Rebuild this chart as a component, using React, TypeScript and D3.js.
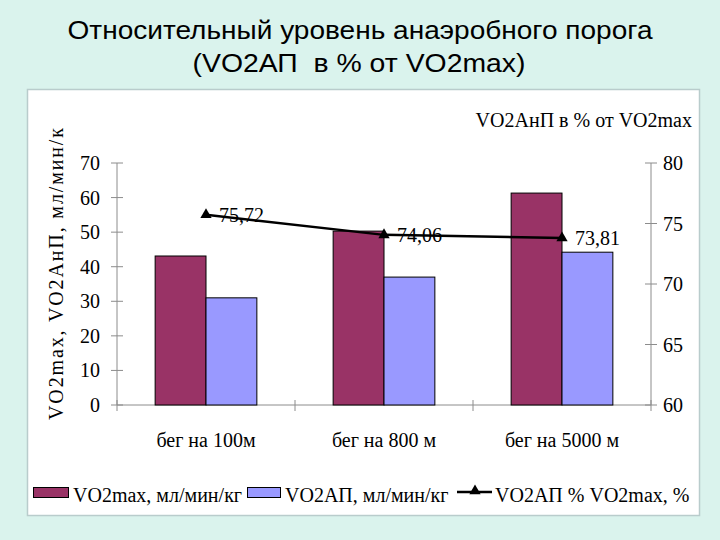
import React from "react";
import * as d3 from "d3";

const categories = ["бег на 100м", "бег на 800 м", "бег на 5000 м"];
const vo2max = [43.1, 50.3, 61.3];
const vo2ap = [31.0, 37.0, 44.2];
const apPercent = [75.72, 74.06, 73.81];
const apLabels = ["75,72", "74,06", "73,81"];
const leftTicks = [0, 10, 20, 30, 40, 50, 60, 70];
const rightTicks = [60, 65, 70, 75, 80];
const seriesNames = ["VO2max, мл/мин/кг", "VO2АП, мл/мин/кг", "VO2АП % VO2max, %"];
const barColors = ["#993366", "#9999ff"];

const W = 720;
const H = 540;
const plotLeft = 117;
const plotRight = 651;
const plotTop = 163;
const plotBottom = 405;
const serif = "'Liberation Serif', 'Times New Roman', serif";
const axisColor = "#8c8c8c";

export default function App() {
  const x = d3
    .scaleBand<string>()
    .domain(categories)
    .range([plotLeft, plotRight])
    .paddingInner(0.75 / 1.75)
    .paddingOuter(0.375 / 1.75);
  const xInner = d3.scaleBand<number>().domain([0, 1]).range([0, x.bandwidth()]);
  const yL = d3.scaleLinear().domain([0, 70]).range([plotBottom, plotTop]);
  const yR = d3.scaleLinear().domain([60, 80]).range([plotBottom, plotTop]);
  const step = x.step();

  const linePts: [number, number][] = categories.map((c, i) => [
    (x(c) as number) + x.bandwidth() / 2,
    yR(apPercent[i]),
  ]);
  const line = d3.line();
  const tri = d3.symbol().type(d3.symbolTriangle).size(55);

  const boundaries = d3.range(categories.length + 1).map((i) => plotLeft + i * step);

  return (
    <svg
      width={W}
      height={H}
      style={{ position: "absolute", left: 0, top: 0, display: "block" }}
    >
      <rect x={0} y={0} width={W} height={H} fill="#daf3ed" />
      <text
        x={360}
        y={39}
        textAnchor="middle"
        fontFamily="'Liberation Sans Narrow', 'Liberation Sans', Arial, sans-serif"
        fontSize={25}
        textLength={585}
        lengthAdjust="spacingAndGlyphs"
        fill="#000"
      >
        Относительный уровень анаэробного порога
      </text>
      <text
        x={359}
        y={72}
        textAnchor="middle"
        fontFamily="'Liberation Sans Narrow', 'Liberation Sans', Arial, sans-serif"
        fontSize={25}
        textLength={333}
        lengthAdjust="spacingAndGlyphs"
        fill="#000"
        style={{ whiteSpace: "pre" }}
      >
        {"(VO2АП  в % от VO2max)"}
      </text>

      <rect x={27.5} y={89.5} width={672} height={426} fill="#ffffff" stroke="#b9cccc" strokeWidth={1.5} />

      {/* left axis */}
      <line x1={plotLeft} x2={plotLeft} y1={plotTop} y2={plotBottom} stroke={axisColor} />
      {leftTicks.map((t) => (
        <g key={"l" + t}>
          <line x1={plotLeft - 6} x2={plotLeft + 6} y1={yL(t)} y2={yL(t)} stroke={axisColor} />
          <text
            x={100}
            y={yL(t)}
            dy="0.35em"
            textAnchor="end"
            fontFamily={serif}
            fontSize={20}
            fill="#000"
          >
            {t}
          </text>
        </g>
      ))}
      {/* right axis */}
      <line x1={plotRight} x2={plotRight} y1={plotTop} y2={plotBottom} stroke={axisColor} />
      {rightTicks.map((t) => (
        <g key={"r" + t}>
          <line x1={plotRight - 6} x2={plotRight + 6} y1={yR(t)} y2={yR(t)} stroke={axisColor} />
          <text
            x={663}
            y={yR(t)}
            dy="0.35em"
            textAnchor="start"
            fontFamily={serif}
            fontSize={20}
            fill="#000"
          >
            {t}
          </text>
        </g>
      ))}
      {/* x axis */}
      <line x1={plotLeft} x2={plotRight} y1={plotBottom} y2={plotBottom} stroke={axisColor} />
      {boundaries.map((bx, i) => (
        <line key={"b" + i} x1={bx} x2={bx} y1={plotBottom - 5} y2={plotBottom + 6} stroke={axisColor} />
      ))}

      {/* bars */}
      {categories.map((c, i) => (
        <g key={"g" + c}>
          {[vo2max[i], vo2ap[i]].map((v, s) => (
            <rect
              key={s}
              x={(x(c) as number) + (xInner(s) as number)}
              y={yL(v)}
              width={xInner.bandwidth()}
              height={plotBottom - yL(v)}
              fill={barColors[s]}
              stroke="#000"
              strokeWidth={1}
            />
          ))}
        </g>
      ))}

      {/* data labels */}
      {linePts.map((p, i) => (
        <text
          key={"dl" + i}
          x={p[0] + 13}
          y={p[1]}
          dy="0.35em"
          fontFamily={serif}
          fontSize={20}
          fill="#000"
        >
          {apLabels[i]}
        </text>
      ))}
      {/* line */}
      <path d={line(linePts) || ""} fill="none" stroke="#000" strokeWidth={2.5} />
      {linePts.map((p, i) => (
        <path key={"m" + i} d={tri() || ""} transform={`translate(${p[0]},${p[1]})`} fill="#000" />
      ))}

      {/* x labels */}
      {categories.map((c) => (
        <text
          key={"xl" + c}
          x={(x(c) as number) + x.bandwidth() / 2}
          y={447}
          textAnchor="middle"
          fontFamily={serif}
          fontSize={20}
          fill="#000"
        >
          {c}
        </text>
      ))}

      {/* axis titles */}
      <text
        transform="translate(63,274) rotate(-90)"
        textAnchor="middle"
        fontFamily={serif}
        fontSize={20}
        textLength={292}
        lengthAdjust="spacing"
        fill="#000"
      >
        VO2max, VO2АнП, мл/мин/к
      </text>
      <text x={692} y={127} textAnchor="end" fontFamily={serif} fontSize={20} fill="#000">
        VO2АнП в % от VO2max
      </text>

      {/* legend */}
      <rect x={33.5} y={487.5} width={35} height={10} fill={barColors[0]} stroke="#000" />
      <text x={73} y={502} fontFamily={serif} fontSize={20} fill="#000">
        {seriesNames[0]}
      </text>
      <rect x={247.5} y={487.5} width={33} height={10} fill={barColors[1]} stroke="#000" />
      <text x={285} y={502} fontFamily={serif} fontSize={20} fill="#000">
        {seriesNames[1]}
      </text>
      <line x1={457} x2={492} y1={492} y2={492} stroke="#000" strokeWidth={2.5} />
      <path d={tri() || ""} transform="translate(475,491)" fill="#000" />
      <text x={495} y={502} fontFamily={serif} fontSize={20} fill="#000">
        {seriesNames[2]}
      </text>
    </svg>
  );
}
